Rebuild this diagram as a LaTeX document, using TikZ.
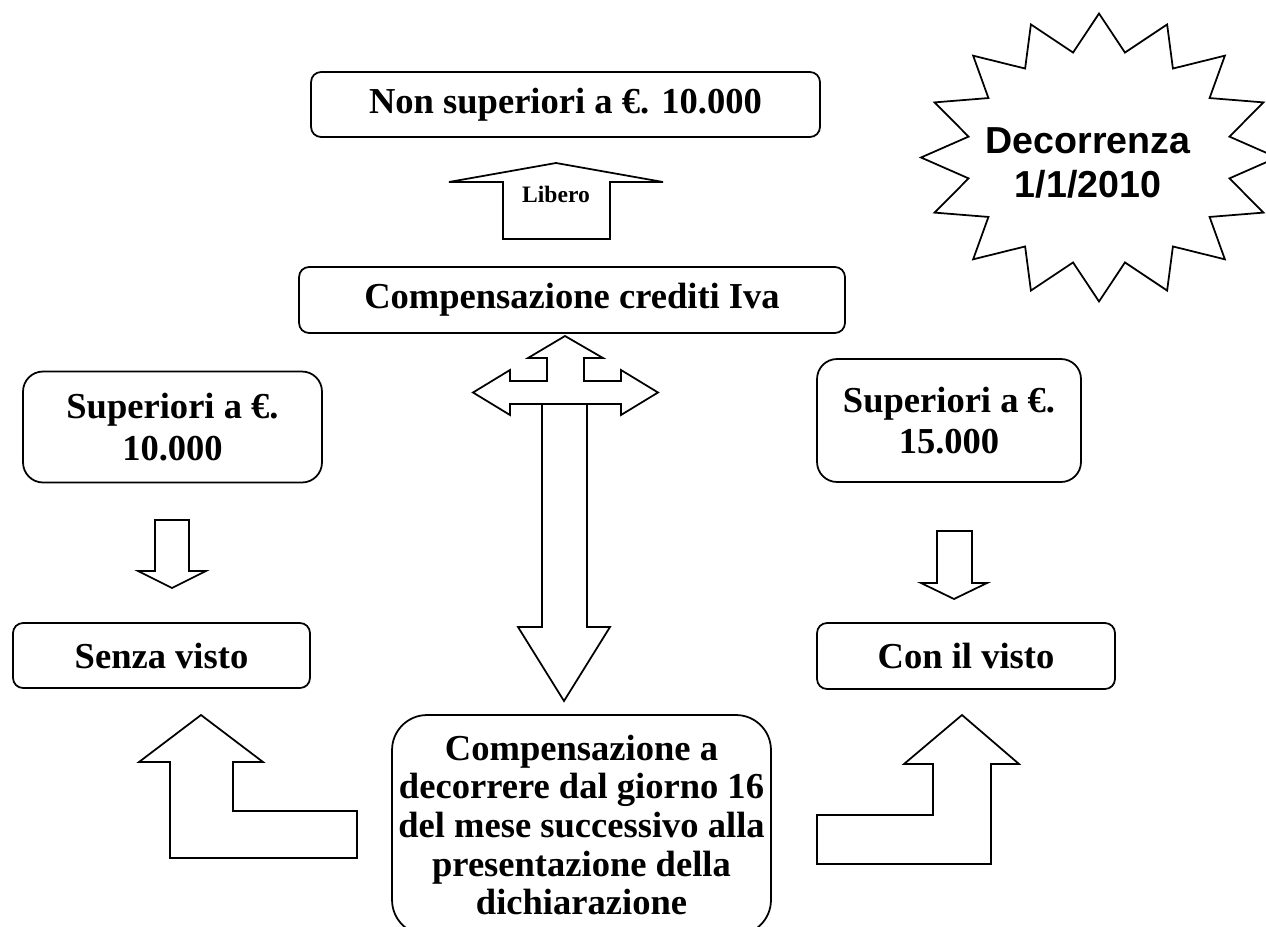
\documentclass[tikz,border=0pt]{standalone}
\usepackage{fontspec}
\setmainfont{Liberation Serif}
\newfontfamily\arialfont{Liberation Sans}
\usetikzlibrary{calc}

\tikzset{
  box/.style={draw, line width=1pt, rounded corners=#1, align=center, inner sep=0pt,
    font=\bfseries\fontsize{20.8}{23.5}\selectfont},
  box/.default=0.2cm,
  blockarrow/.style={draw, line width=1pt, fill=white, line join=miter},
}

\begin{document}
\begin{tikzpicture}[x=0.02cm, y=-0.02cm]
\useasboundingbox (0,0) rectangle (1266,926);
\clip (0,0) rectangle (1266,926);

% boxes
\node[box, minimum width=10.18cm, minimum height=1.3cm] (non) at (565.5,104.5) {Non superiori a €. 10.000};
\node[box, minimum width=10.92cm, minimum height=1.32cm] (comp) at (572,300) {Compensazione crediti Iva};
\node[box=0.4cm, minimum width=5.98cm, minimum height=2.22cm] (sup10) at (172.5,427) {Superiori a €.\\10.000};
\node[box, minimum width=5.94cm, minimum height=1.3cm] (senza) at (161.5,655.5) {Senza visto};
\node[box=0.4cm, minimum width=5.28cm, minimum height=2.46cm] (sup15) at (949,420.5) {Superiori a €.\\15.000};
\node[box, minimum width=5.96cm, minimum height=1.32cm] (con) at (966,656) {Con il visto};
\node[box=0.7cm, minimum width=7.58cm, minimum height=4.4cm, font=\bfseries\fontsize{20.8}{22}\selectfont] (decorrere) at (581.5,825)
  {Compensazione a\\decorrere dal giorno 16\\del mese successivo alla\\presentazione della\\dichiarazione};

% libero
\draw[blockarrow] (449,182) -- (556,163) -- (663,182) -- (610,182) -- (610,239) -- (503,239) -- (503,182) -- cycle;
\node[font=\bfseries\fontsize{13.4}{16}\selectfont] (libero) at (556,194) {Libero};

% three ways + down
\draw[blockarrow] (565,336) -- (603,358) -- (584,358) -- (584,381) -- (621,381) -- (621,370) -- (658,392.5)
  -- (621,415) -- (621,404) -- (510,404) -- (510,415) -- (473,392.5) -- (510,370) -- (510,381)
  -- (547,381) -- (547,358) -- (528,358) -- cycle;
\draw[blockarrow] (542,404) -- (587,404) -- (587,627) -- (610,627) -- (564,701) -- (518,627) -- (542,627) -- cycle;

% small arrows
\draw[blockarrow] (155,520) -- (189,520) -- (189,571) -- (206,571) -- (172,588) -- (138,571) -- (155,571) -- cycle;
\draw[blockarrow] (937,531) -- (972,531) -- (972,583) -- (987,583) -- (954,599) -- (921,583) -- (937,583) -- cycle;

% bent arrows
\draw[blockarrow] (201,715) -- (263,762) -- (233,762) -- (233,811) -- (357,811) -- (357,858) -- (170,858) -- (170,762) -- (139,762) -- cycle;
\draw[blockarrow] (962,715) -- (1019,764) -- (991,764) -- (991,864) -- (817,864) -- (817,815) -- (933,815) -- (933,764) -- (904,764) -- cycle;

% star
\draw[blockarrow] (1099,13.5) \foreach \k in {0,...,15} {
  -- ({1099+133*cos(101.25+22.5*\k)},{157.5-107*sin(101.25+22.5*\k)})
  -- ({1099+178*cos(90+22.5*(\k+1))},{157.5-144*sin(90+22.5*(\k+1))}) } -- cycle;
\node[font=\arialfont\bfseries\fontsize{21.4}{25}\selectfont, align=center] (decorrenza) at (1088,163) {Decorrenza\\1/1/2010};
\end{tikzpicture}
\end{document}
